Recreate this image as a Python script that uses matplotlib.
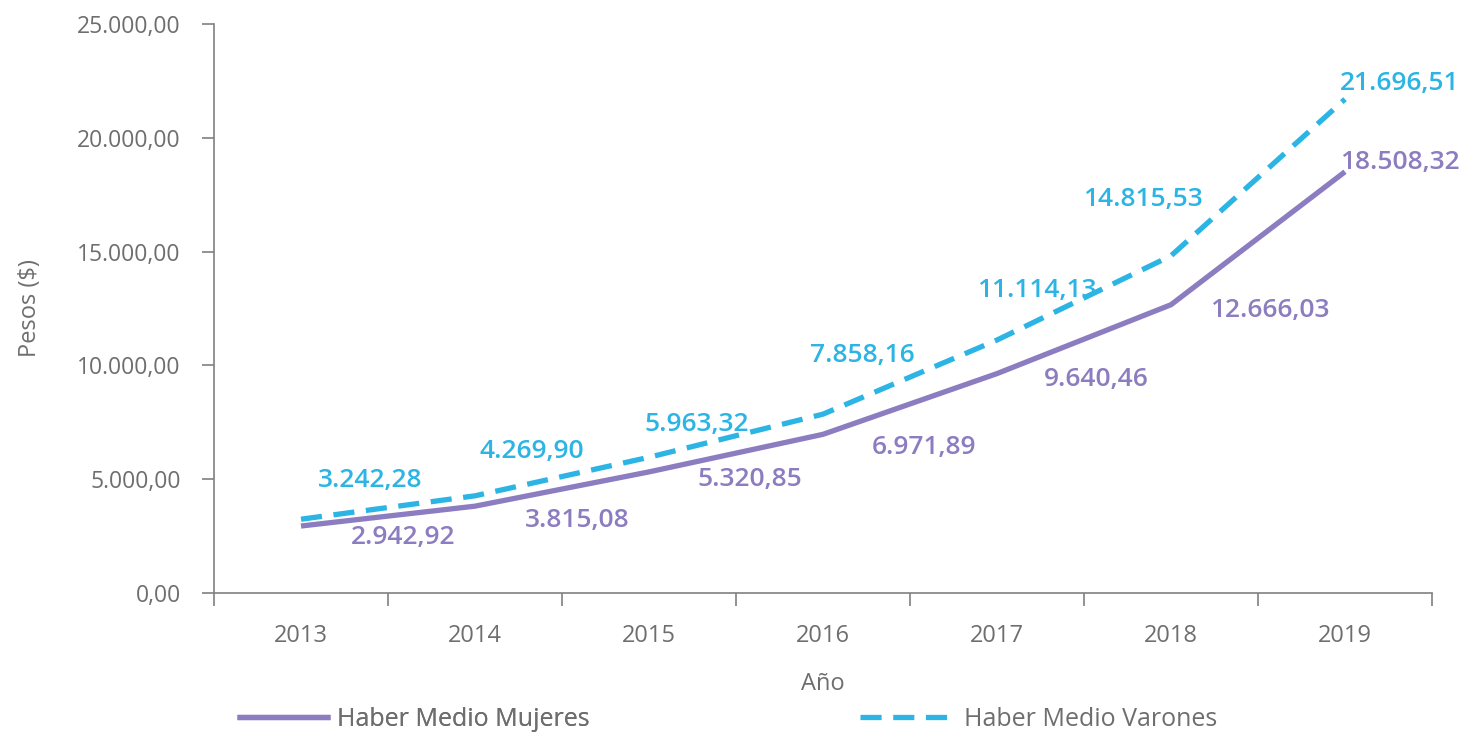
import matplotlib.pyplot as plt
import numpy as np

# data
years = ["2013", "2014", "2015", "2016", "2017", "2018", "2019"]
mujeres = [2942.92, 3815.08, 5320.85, 6971.89, 9640.46, 12666.03, 18508.32]
varones = [3242.28, 4269.90, 5963.32, 7858.16, 11114.13, 14815.53, 21696.51]

# label offsets in pixels (dx, dy), picked to match the reference
off_muj = [(102, -11), (102, -14), (101, -8), (101, -13), (99, -6), (99, -6), (-5, 9)]
off_var = [(69, 39), (57, 44), (48, 33), (39, 59), (40, 50), (-28, 56), (-5, 16)]

purple = "#8c7cc0"
cyan = "#2bb4e4"
gray = "#6e6e6e"


def fmt(v):
    s = f"{v:,.2f}"
    return s.replace(",", "X").replace(".", ",").replace("X", ".")


plt.rcParams['font.family'] = ['Open Sans', 'DejaVu Sans']

fig = plt.figure(figsize=(14.66, 7.34), dpi=100)
ax = fig.add_axes([214 / 1466, 1 - 593 / 734, (1432 - 214) / 1466, (593 - 24) / 734])

x = np.arange(len(years))
l1, = ax.plot(x, mujeres, color=purple, lw=3.8, solid_capstyle="butt",
              label="Haber Medio Mujeres")
l2, = ax.plot(x, varones, color=cyan, lw=3.8, dashes=(4, 2.2),
              label="Haber Medio Varones")

for i in range(len(years)):
    dx, dy = off_muj[i]
    ha = "left" if i == len(years) - 1 else "center"
    ax.annotate(fmt(mujeres[i]), (x[i], mujeres[i]), xytext=(dx, dy),
                textcoords="offset pixels", ha=ha, va="center",
                color=purple, fontsize=19, fontweight="semibold")
    dx, dy = off_var[i]
    ax.annotate(fmt(varones[i]), (x[i], varones[i]), xytext=(dx, dy),
                textcoords="offset pixels", ha=ha, va="center",
                color=cyan, fontsize=19, fontweight="semibold")

ax.set_xlim(-0.5, 6.5)
ax.set_ylim(0, 25000)
ax.set_yticks(np.arange(0, 25001, 5000))
ax.set_yticklabels([fmt(v) for v in np.arange(0, 25001, 5000)])
ax.set_xticks(x)
ax.set_xticklabels(years)
ax.set_xticks(np.arange(-0.5, 7, 1), minor=True)
ax.tick_params(axis="x", which="major", length=0, pad=22, labelsize=17, labelcolor=gray)
ax.tick_params(axis="x", which="minor", length=9, width=1.2, color="#808080", direction="out")
ax.tick_params(axis="y", length=9, width=1.2, color="#808080", pad=15, labelsize=16.5, labelcolor=gray)

for s in ["top", "right"]:
    ax.spines[s].set_visible(False)
for s in ["left", "bottom"]:
    ax.spines[s].set_color("#808080")
    ax.spines[s].set_linewidth(1.2)

ax.set_xlabel("Año", fontsize=17, color=gray)
ax.set_ylabel("Pesos ($)", fontsize=17, color=gray)
ax.xaxis.set_label_coords(0.5, (593 - 684) / 569, transform=ax.transAxes)
ax.yaxis.set_label_coords((30 - 214) / 1218, 0.5, transform=ax.transAxes)
ax.xaxis.label.set_va("center")
ax.yaxis.label.set_va("center")

leg1 = fig.legend(handles=[l1], loc="center left", bbox_to_anchor=(237 / 1466, 1 - 719 / 734),
                  frameon=False, fontsize=18, handlelength=3.7, handletextpad=0.3,
                  borderpad=0, borderaxespad=0, labelcolor=gray)
leg2 = fig.legend(handles=[l2], loc="center left", bbox_to_anchor=(860 / 1466, 1 - 719 / 734),
                  frameon=False, fontsize=18, handlelength=3.7, handletextpad=0.45,
                  borderpad=0, borderaxespad=0, labelcolor=gray)
fig.add_artist(leg1)

fig.savefig("out.png", dpi=100)
